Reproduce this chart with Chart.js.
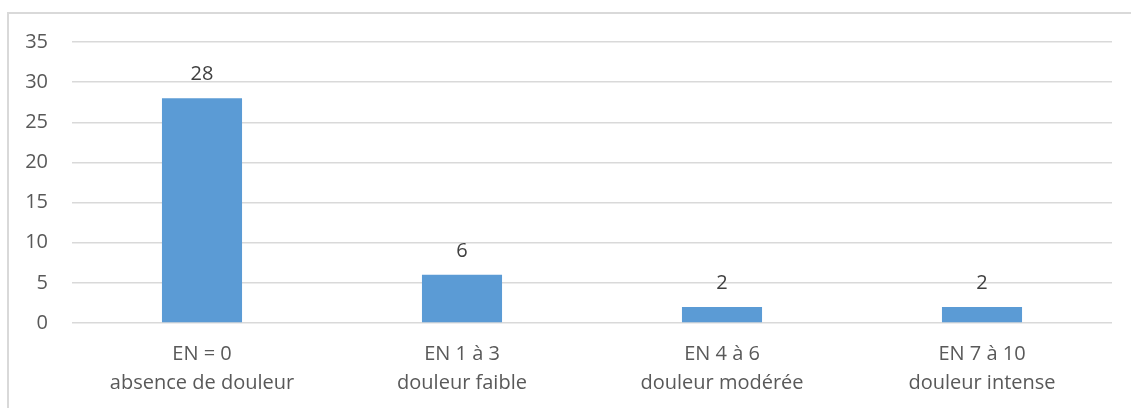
<!DOCTYPE html>
<html>
<head>
<meta charset="utf-8">
<script src="https://cdn.jsdelivr.net/npm/chart.js@4/dist/chart.umd.min.js"></script>
<style>
  html, body { margin: 0; padding: 0; background: #fff; }
  #wrap { position: relative; width: 1131px; height: 408px; overflow: hidden; }
  #frame { position: absolute; left: 7px; top: 12px; width: 1200px; height: 500px;
           border-top: 2px solid #D9D9D9; border-left: 2px solid #D9D9D9; box-sizing: border-box; }
  canvas { position: absolute; left: 0; top: 0; }
</style>
</head>
<body>
<div id="wrap">
  <div id="frame"></div>
  <canvas id="c" width="1131" height="408"></canvas>
</div>
<script>
const categories = [
  ["EN = 0", "absence de douleur"],
  ["EN 1 à 3", "douleur faible"],
  ["EN 4 à 6", "douleur modérée"],
  ["EN 7 à 10", "douleur intense"]
];
const values = [28, 6, 2, 2];
const yTicks = [0, 5, 10, 15, 20, 25, 30, 35];

const FONT = "'Open Sans', sans-serif";

const valueLabels = {
  id: 'valueLabels',
  afterDatasetsDraw(chart) {
    const ctx = chart.ctx;
    const meta = chart.getDatasetMeta(0);
    ctx.save();
    ctx.font = "20px " + FONT;
    ctx.fillStyle = '#404040';
    ctx.textAlign = 'center';
    ctx.textBaseline = 'middle';
    meta.data.forEach((bar, i) => {
      ctx.fillText(String(values[i]), bar.x, bar.y - 24);
    });
    ctx.restore();
  }
};

new Chart(document.getElementById('c'), {
  type: 'bar',
  data: {
    labels: categories,
    datasets: [{
      data: values,
      backgroundColor: '#5B9BD5',
      borderWidth: 0,
      barPercentage: 0.308,
      categoryPercentage: 1.0
    }]
  },
  options: {
    responsive: false,
    animation: false,
    devicePixelRatio: 1,
    layout: { padding: { top: 42, right: 19, left: 0, bottom: 0 } },
    plugins: { legend: { display: false }, tooltip: { enabled: false } },
    scales: {
      x: {
        grid: { display: false, drawTicks: false },
        border: { display: false },
        ticks: {
          color: '#595959',
          font: { family: FONT, size: 20, lineHeight: 1.45 },
          padding: 17,
          maxRotation: 0,
          autoSkip: false
        },
        afterFit(scale) { scale.height = 85; }
      },
      y: {
        min: 0,
        max: 35,
        afterBuildTicks(scale) { scale.ticks = yTicks.map(v => ({ value: v })); },
        grid: { color: '#D9D9D9', lineWidth: 1.5, drawTicks: false },
        border: { display: false },
        ticks: {
          color: '#595959',
          font: { family: FONT, size: 20 },
          padding: 24
        },
        afterFit(scale) { scale.width = 72; }
      }
    }
  },
  plugins: [valueLabels]
});
</script>
</body>
</html>
